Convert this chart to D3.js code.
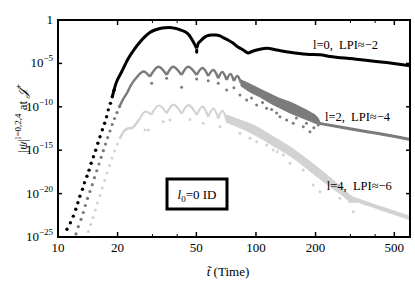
<!DOCTYPE html>
<html lang="en">
<head>
<meta charset="UTF-8">
<title>l0=0 ID</title>
<script src="https://d3js.org/d3.v7.min.js"></script>
<style>
  body { margin: 0; background: #fff; }
  svg text { font-family: "Liberation Serif", "DejaVu Serif", serif; fill: #000; }
</style>
</head>
<body>
<svg width="415" height="282"></svg>
<script>
// axis ticks
const xTicks = [10, 20, 50, 100, 200, 500];
const xMinorTicks = [30, 40, 300, 400];
const yTickExps = [0, -5, -10, -15, -20, -25];

// every point is [t, log10 |psi|]
// l = 0
const l0Dots = [[11.1,-24.1],[11.55,-23.35],[11.95,-22.6],[12.3,-21.8],[12.6,-21.05],[12.9,-20.3],[13.3,-19.5],[13.6,-18.75],[14.0,-18.0],[14.35,-17.3],[14.7,-16.5],[15.1,-15.75],[15.5,-15.0],[15.9,-14.2],[16.3,-13.45],[16.75,-12.65],[17.2,-11.9],[17.6,-11.15],[17.95,-10.35],[18.4,-9.6],[18.8,-8.85],[19.2,-8.1]];
const l0LineA = [[18.8,-8.85],[19.63,-7.3],[20.98,-5.96],[22.57,-4.49],[24.48,-3.26],[25.95,-2.53],[27.5,-1.92],[29.1,-1.44],[30.9,-1.15],[32.75,-0.98],[34.7,-0.89],[36.8,-0.86],[39.0,-0.96],[41.3,-1.12],[43.8,-1.35],[45.9,-1.73],[47.5,-2.25],[49.2,-2.88],[50.2,-3.26]];
const l0LineB = [[50.2,-3.26],[51.2,-2.65],[52.1,-2.5],[54.2,-2.1],[56.6,-1.84],[59.6,-1.73],[62.8,-1.73],[65.8,-1.84],[68.4,-2.04],[72.2,-2.3],[76.8,-2.68],[81.1,-3.11],[86.3,-3.46],[91.4,-3.8],[95.4,-3.63],[100.8,-3.46],[106,-3.34],[113.2,-3.26],[127.2,-3.46],[148.5,-3.72],[180.3,-3.95],[210.5,-4.01],[236.4,-4.2],[309,-4.47],[457,-4.9],[600,-5.26]];
const l0Scatter = [[50.2,-3.5],[50.2,-3.7]];

// l = 2
const l2Dots = [[12.33,-24.65],[12.66,-23.81],[13.07,-22.98],[13.42,-22.18],[13.74,-21.37],[14.09,-20.56],[14.5,-19.76],[14.9,-18.97],[15.28,-18.17],[15.7,-17.37],[16.11,-16.59],[16.53,-15.82],[16.94,-15.06],[17.38,-14.29],[17.81,-13.54],[18.31,-12.79],[18.78,-12.04],[19.29,-11.35],[19.86,-10.66],[20.45,-9.97]];
const l2Rise = [[20.45,-9.97],[21.29,-9.16],[22.31,-8.41],[23.37,-7.49],[25.06,-6.57],[27.03,-5.93],[29.14,-6.53]];
const l2Cusps = [[29.14,-6.53],[35.4,-6.34],[42.1,-6.34],[50.2,-6.34],[57.4,-6.45],[64.5,-6.72],[71.1,-6.91],[77.4,-7.03],[84.0,-7.26]];
const l2Peaks = [[32.1,-5.38],[38.2,-5.38],[45.5,-5.38],[53.7,-5.53],[61.0,-5.76],[67.7,-5.99],[74.3,-6.22],[80.7,-6.45]];
// [t, upper, lower]
const l2Band = [[84.0,-6.9,-7.6],[93.3,-7.37,-8.29],[104.8,-7.95,-8.87],[117.7,-8.5,-9.56],[132.2,-9.05,-10.14],[148.5,-9.45,-10.71],[166.8,-10.0,-11.18],[187.4,-10.6,-11.64],[205.6,-11.29,-11.98],[210.5,-11.75,-12.0]];
const l2Scatter = [[29.73,-7.29],[35.4,-6.72],[42.1,-7.75],[50.2,-6.8],[57.4,-7.0],[64.5,-7.3],[71.1,-8.06],[77.4,-7.8],[83.0,-8.64],[89.7,-9.22],[95,-9.0],[100.8,-9.79],[108,-9.5],[113.2,-10.17],[120,-10.3],[127.2,-10.71],[132.2,-11.14],[142.9,-11.52],[154.3,-11.9],[160,-11.3],[173.4,-12.29],[180,-11.9],[187.4,-12.87],[196,-12.4],[206.3,-12.1]];
const l2Tail = [[210.5,-11.92],[265.6,-12.33],[335.2,-12.73],[457,-13.25],[600,-13.77]];

// l = 4
const l4Dots = [[14.22,-24.37],[14.63,-23.56],[15.03,-22.75],[15.44,-21.89],[15.83,-21.08],[16.3,-20.22],[16.74,-19.35],[17.21,-18.49],[17.68,-17.63],[18.2,-16.76],[18.74,-15.9],[19.29,-15.09],[19.93,-14.29],[20.63,-13.54]];
const l4Rise = [[20.63,-13.54],[21.42,-12.9],[22.57,-12.5],[23.64,-12.44],[25.06,-11.81],[26.0,-11.3]];
const l4Cusps = [[26.0,-11.3],[29.6,-10.9],[35.4,-10.75],[42.1,-10.8],[50.2,-10.95],[57.4,-11.15],[64.5,-11.35],[71.1,-11.6]];
const l4Peaks = [[27.6,-10.55],[32.3,-9.85],[38.4,-9.75],[45.8,-9.8],[53.8,-9.97],[61.0,-10.2],[67.8,-10.45]];
const l4Band = [[71.1,-10.95,-11.8],[83.0,-11.52,-12.4],[100.8,-12.29,-13.35],[122.3,-13.44,-14.5],[148.5,-14.6,-15.65],[180.3,-16.01,-17.1],[218.8,-17.51,-18.6],[265.6,-19.12,-20.0],[309.0,-20.39,-21.0],[322.6,-20.6,-21.0]];
const l4Scatter = [[27.5,-12.67],[28.6,-12.67],[34.0,-11.72],[36.8,-11.52],[46.4,-11.45],[54.2,-11.9],[65.8,-12.29],[83.0,-13.05],[93.3,-13.63],[100.8,-14.02],[113.2,-14.4],[122.3,-14.98],[128.1,-15.17],[137.4,-15.55],[148.5,-16.51],[173.4,-17.28],[194.7,-19.01],[210.5,-19.78],[265.6,-20.54],[298.4,-20.93],[310.1,-22.09]];
const l4Tail = [[309,-20.6],[322.6,-20.74],[423,-21.66],[600,-22.81]];

const seriesLabels = ["l=0,\u00a0 LPI≈−2", "l=2,\u00a0 LPI≈−4", "l=4,\u00a0 LPI≈−6"];

const svg = d3.select("svg");
const mLeft = 58, mRight = 410, mTop = 20, mBottom = 237;

const x = d3.scaleLog().domain([10, 600]).range([mLeft, mRight]);
const y = d3.scaleLog().domain([1e-25, 1]).range([mBottom, mTop]);
const px = d => x(d[0]);
const py = d => y(Math.pow(10, d[1]));

const black = "#000", dark = "#7b7b7b", light = "#d2d2d2";

function dots(data, color, r) {
    svg.append("g").selectAll("circle")
        .data(data)
        .enter()
        .append("circle")
        .attr("cx", px)
        .attr("cy", py)
        .attr("r", r)
        .attr("fill", color);
}

function line(data, color, w) {
    svg.append("path")
        .datum(data)
        .attr("fill", "none")
        .attr("stroke", color)
        .attr("stroke-width", w)
        .attr("stroke-linejoin", "round")
        .attr("d", d3.line().x(px).y(py).curve(d3.curveMonotoneX));
}

function arcs(cusps, peaks, color, w) {
    peaks.forEach(function (p, i) {
        svg.append("path")
            .datum([cusps[i], p, cusps[i + 1]])
            .attr("fill", "none")
            .attr("stroke", color)
            .attr("stroke-width", w)
            .attr("d", d3.line().x(px).y(py).curve(d3.curveNatural));
    });
}

function band(data, color) {
    svg.append("path")
        .datum(data)
        .attr("fill", color)
        .attr("stroke", color)
        .attr("stroke-width", 1)
        .attr("d", d3.area()
            .x(px)
            .y0(d => y(Math.pow(10, d[2])))
            .y1(d => y(Math.pow(10, d[1])))
            .curve(d3.curveMonotoneX));
}

// l=4
dots(l4Dots, light, 1.5);
line(l4Rise, light, 2.5);
arcs(l4Cusps, l4Peaks, light, 2.2);
band(l4Band, light);
dots(l4Scatter, light, 1.5);
line(l4Tail, light, 4);

// l=2
dots(l2Dots, dark, 1.6);
line(l2Rise, dark, 2.5);
arcs(l2Cusps, l2Peaks, dark, 2.5);
band(l2Band, dark);
dots(l2Scatter, dark, 1.5);
line(l2Tail, dark, 3);

// l=0
dots(l0Dots, black, 1.7);
line(l0LineA, black, 3);
line(l0LineB, black, 3);
dots(l0Scatter, black, 1.6);

// frame
svg.append("rect")
    .attr("x", mLeft).attr("y", mTop)
    .attr("width", mRight - mLeft).attr("height", mBottom - mTop)
    .attr("fill", "none").attr("stroke", "black").attr("stroke-width", 2);

// x ticks (bottom and top)
xTicks.forEach(function (t) {
    svg.append("line").attr("x1", x(t)).attr("x2", x(t)).attr("y1", mBottom).attr("y2", mBottom - 5)
        .attr("stroke", "black").attr("stroke-width", 1.5);
    svg.append("line").attr("x1", x(t)).attr("x2", x(t)).attr("y1", mTop).attr("y2", mTop + 5)
        .attr("stroke", "black").attr("stroke-width", 1.5);
    svg.append("text").attr("x", x(t)).attr("y", mBottom + 15)
        .attr("text-anchor", "middle").attr("font-size", 13).text(t);
});
xMinorTicks.forEach(function (t) {
    svg.append("line").attr("x1", x(t)).attr("x2", x(t)).attr("y1", mBottom).attr("y2", mBottom - 3)
        .attr("stroke", "black").attr("stroke-width", 1);
    svg.append("line").attr("x1", x(t)).attr("x2", x(t)).attr("y1", mTop).attr("y2", mTop + 3)
        .attr("stroke", "black").attr("stroke-width", 1);
});

// y ticks (left and right)
yTickExps.forEach(function (e) {
    const yy = y(Math.pow(10, e));
    svg.append("line").attr("x1", mLeft).attr("x2", mLeft + 4).attr("y1", yy).attr("y2", yy)
        .attr("stroke", "black").attr("stroke-width", 1.5);
    svg.append("line").attr("x1", mRight).attr("x2", mRight - 4).attr("y1", yy).attr("y2", yy)
        .attr("stroke", "black").attr("stroke-width", 1.5);
    const lab = svg.append("text").attr("x", mLeft - 5).attr("y", yy + 4)
        .attr("text-anchor", "end").attr("font-size", 13);
    if (e === 0) {
        lab.text("1");
    } else {
        lab.append("tspan").text("10");
        lab.append("tspan").attr("dy", -6).attr("font-size", 9).text("−" + (-e));
    }
});

// axis titles
const yt = svg.append("text")
    .attr("transform", "translate(27," + 118 + ") rotate(-90)")
    .attr("text-anchor", "middle").attr("font-size", 13);
yt.append("tspan").text("|");
yt.append("tspan").attr("font-style", "italic").text("ψ");
yt.append("tspan").text("|");
yt.append("tspan").attr("dy", -6).attr("font-size", 9).text("l=0,2,4");
yt.append("tspan").attr("dy", 6).text(" at ");
yt.append("tspan").attr("font-style", "italic").text("𝒥");
yt.append("tspan").attr("dy", -6).attr("font-size", 9).text("+");

const xt = svg.append("text")
    .attr("x", 228).attr("y", 276)
    .attr("text-anchor", "middle").attr("font-size", 13);
xt.append("tspan").attr("font-style", "italic").text("t\u0303");
xt.append("tspan").text(" (Time)");

// series labels
const labelPos = [[194, -3.34], [223, -11.64], [228, -19.6]];
seriesLabels.forEach(function (s, i) {
    svg.append("text")
        .attr("x", px(labelPos[i])).attr("y", py(labelPos[i]))
        .attr("font-size", 12.5).text(s);
});

// initial data box
svg.append("rect")
    .attr("x", 167).attr("y", 179).attr("width", 60).attr("height", 30)
    .attr("fill", "white").attr("stroke", "black").attr("stroke-width", 3);
const bt = svg.append("text").attr("x", 197).attr("y", 199)
    .attr("text-anchor", "middle").attr("font-size", 13);
bt.append("tspan").attr("font-style", "italic").text("l");
bt.append("tspan").attr("dy", 3).attr("font-size", 9).text("0");
bt.append("tspan").attr("dy", -3).text("=0 ID");
</script>
</body>
</html>
